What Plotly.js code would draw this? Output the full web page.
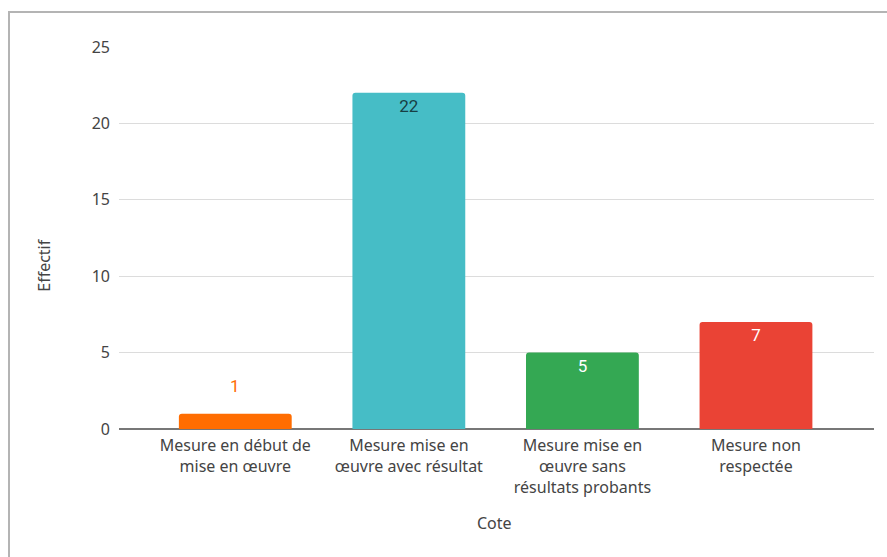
<!DOCTYPE html>
<html>
<head>
<meta charset="utf-8">
<script src="https://cdn.plot.ly/plotly-3.0.1.min.js"></script>
<style>
  html, body { margin: 0; padding: 0; background: #fff; }
  #wrap { position: relative; width: 887px; height: 557px; overflow: hidden; }
  #chart { position: absolute; left: 0; top: 0; width: 887px; height: 557px; }
  #frame { position: absolute; left: 8px; top: 11px; width: 900px; height: 560px;
           border-left: 2px solid #b4b4b4; border-top: 2px solid #b4b4b4; pointer-events: none; }
</style>
</head>
<body>
<div id="wrap">
  <div id="chart"></div>
  <div id="frame"></div>
</div>
<script>
// Categories and counts
const categories = [
  "Mesure en début de<br>mise en œuvre",
  "Mesure mise en<br>œuvre avec résultat",
  "Mesure mise en<br>œuvre sans<br>résultats probants",
  "Mesure non<br>respectée"
];
const counts = [1, 22, 5, 7];
const barColors = ["#ff6d01", "#46bdc6", "#34a853", "#ea4335"];
const labelColors = ["#ff6d01", "#173f44", "#ffffff", "#ffffff"];
// bars too short to hold their value get it written above them
const labelOutside = [true, false, false, false];
const yTicks = [0, 5, 10, 15, 20, 25];

const axisFont = { family: "Noto Sans, Liberation Sans, sans-serif", size: 16, color: "#444" };
const valueFont = { family: "Roboto, sans-serif", size: 17 };

const xs = categories.map((_, i) => i);

const trace = {
  type: "bar",
  x: xs,
  y: counts,
  width: 0.65,
  marker: { color: barColors, cornerradius: 3, line: { width: 0 } },
  text: counts.map((v, i) => labelOutside[i] ? "" : String(v)),
  textposition: "inside",
  insidetextanchor: "end",
  textangle: 0,
  cliponaxis: false,
  textfont: Object.assign({}, valueFont, { color: labelColors }),
  hoverinfo: "skip"
};

const outsideLabels = counts
  .map((v, i) => ({ v, i }))
  .filter(d => labelOutside[d.i])
  .map(d => ({
    text: String(d.v), showarrow: false,
    xref: "x", yref: "y", x: xs[d.i], y: d.v,
    xanchor: "center", yanchor: "bottom", yshift: 16,
    font: Object.assign({}, valueFont, { color: labelColors[d.i] })
  }));

const layout = {
  width: 887,
  height: 557,
  margin: { l: 119, r: 13, t: 47, b: 128 },
  paper_bgcolor: "#fff",
  plot_bgcolor: "#fff",
  showlegend: false,
  font: axisFont,
  xaxis: {
    range: [-0.67, 3.68],
    tickmode: "array",
    tickvals: xs,
    ticktext: categories,
    showgrid: false,
    zeroline: false,
    showline: false,
    ticks: "",
    ticklabelstandoff: 5,
    tickfont: axisFont,
    automargin: false,
    fixedrange: true
  },
  yaxis: {
    range: [0, 25],
    tickmode: "array",
    tickvals: yTicks,
    ticktext: yTicks.map(String),
    showgrid: true,
    gridcolor: "#dcdcdc",
    gridwidth: 1,
    zeroline: true,
    zerolinecolor: "#777",
    zerolinewidth: 1.5,
    showline: false,
    ticks: "",
    ticklabelstandoff: 8,
    tickfont: axisFont,
    automargin: false,
    fixedrange: true
  },
  annotations: [
    {
      text: "Effectif", textangle: -90, showarrow: false,
      xref: "paper", yref: "paper", x: -0.0993, y: 0.43,
      xanchor: "center", yanchor: "middle",
      font: axisFont
    },
    {
      text: "Cote", showarrow: false,
      xref: "paper", yref: "paper", x: 0.498, y: -0.246,
      xanchor: "center", yanchor: "middle",
      font: axisFont
    }
  ].concat(outsideLabels)
};

Plotly.newPlot("chart", [trace], layout, { displayModeBar: false, staticPlot: true });
</script>
</body>
</html>
